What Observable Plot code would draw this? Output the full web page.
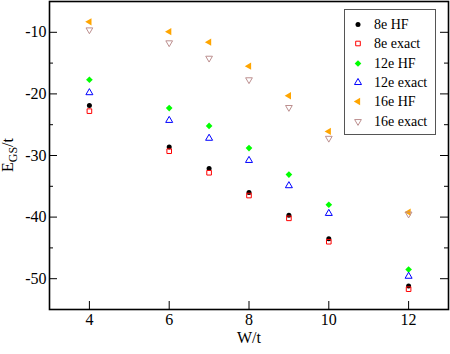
<!DOCTYPE html>
<html>
<head>
<meta charset="utf-8">
<script src="https://cdn.jsdelivr.net/npm/d3@7"></script>
<script src="https://cdn.jsdelivr.net/npm/@observablehq/plot@0.6"></script>
<style>
  html, body { margin: 0; padding: 0; background: #fff; }
  #wrap { position: relative; width: 450px; height: 354px; font-family: "Liberation Serif", serif; }
  #wrap svg text { font-family: "Liberation Serif", serif; }
  #legend { position: absolute; left: 344px; top: 9px; width: 92px; height: 126px; box-sizing: border-box;
            border: 1px solid #555; background: #fff; padding-top: 5.5px; padding-left: 6px;
            font-family: "Liberation Serif", serif; }
  .row { display: flex; align-items: center; height: 19.33px; font-size: 14px; color: #000; }
  .row svg { flex: none; margin-right: 9px; }
</style>
</head>
<body>
<div id="wrap"></div>
<script>
// ---- data ----
const W = [4, 6, 7, 8, 9, 10, 12];
const hf8   = [-21.9, -28.6, -32.1, -36.0, -39.7, -43.5, -51.2];
const ex8   = [-22.8, -29.3, -32.8, -36.5, -40.2, -44.0, -51.7];
const hf12  = [-17.7, -22.3, -25.2, -28.8, -33.1, -38.0, -48.5];
const ex12  = [-19.8, -24.3, -27.2, -30.8, -34.9, -39.4, -49.6];
const hf16  = [-8.3, -9.9, -11.6, -15.5, -20.3, -26.1, -39.2];
const ex16  = [-9.6, -11.7, -14.2, -17.7, -22.2, -27.2, -39.5];
const seriesNames = ["8e HF", "8e exact", "12e HF", "12e exact", "16e HF", "16e exact"];
const xTicks = [4, 6, 8, 10, 12];
const yMajor = [-50, -40, -30, -20, -10];
const yMinor = [-45, -35, -25, -15];

// ---- styles per series ----
const styles = [
  {symbol: "circle",   r: 2.5, fill: "black",  stroke: "none",   rotate: 0},
  {symbol: "square",   r: 2.6, fill: "none",   stroke: "#ff0000", rotate: 0},
  {symbol: "diamond2", r: 3.0, fill: "#00ff00", stroke: "none",  rotate: 0},
  {symbol: "triangle", r: 2.6, fill: "none",   stroke: "#0000ff", rotate: 0},
  {symbol: "triangle", r: 2.7, fill: "#ffa500", stroke: "none",  rotate: -90},
  {symbol: "triangle", r: 2.5, fill: "none",   stroke: "#bc8f8f", rotate: 180}
];
const allValues = [hf8, ex8, hf12, ex12, hf16, ex16];
const data = allValues.map((vals, k) => W.map((w, i) => ({w, e: vals[i], k})));

const width = 450, height = 354;
const mL = 49, mR = 2, mT = 1, mB = 45;
const plotW = width - mL - mR;
const FF = "Liberation Serif, serif";

const dotMarks = data.map((d, k) => Plot.dot(d, {
  x: "w", y: "e",
  symbol: styles[k].symbol, r: styles[k].r,
  fill: styles[k].fill, stroke: styles[k].stroke, strokeWidth: 1,
  rotate: styles[k].rotate
}));

const chart = Plot.plot({
  width, height,
  marginLeft: mL, marginRight: mR, marginTop: mT, marginBottom: mB,
  style: {fontFamily: FF, fontSize: "16px", background: "white", color: "black"},
  x: {domain: [3, 13]},
  y: {domain: [-55, -5]},
  marks: [
    // inward ticks, left and right
    Plot.tickY(yMajor, {y: d => d, insetRight: plotW - 8, stroke: "black", strokeWidth: 1}),
    Plot.tickY(yMajor, {y: d => d, insetLeft: plotW - 8, stroke: "black", strokeWidth: 1}),
    Plot.tickY(yMinor, {y: d => d, insetRight: plotW - 4, stroke: "black", strokeWidth: 1}),
    Plot.tickY(yMinor, {y: d => d, insetLeft: plotW - 4, stroke: "black", strokeWidth: 1}),
    Plot.tickX(xTicks, {x: d => d, insetTop: height - mT - mB - 8, stroke: "black", strokeWidth: 1}),
    Plot.axisY({ticks: yMajor, tickSize: 0, tickPadding: 3, tickFormat: d => String(d), fontSize: 16, fontFamily: FF, label: null}),
    Plot.axisX({ticks: xTicks, tickSize: 0, tickPadding: 4, tickFormat: d => String(d), fontSize: 16, fontFamily: FF,
                label: "W/t", labelAnchor: "center", labelArrow: "none", labelOffset: 33}),
    ...dotMarks,
    Plot.frame({stroke: "black", strokeWidth: 1.6})
  ]
});

const wrap = document.getElementById("wrap");
wrap.appendChild(chart);

// y-axis label with subscript
const svg = d3.select(chart);
const yl = svg.append("text")
  .attr("transform", `translate(13,${mT + (height - mT - mB) / 2}) rotate(-90)`)
  .attr("text-anchor", "middle")
  .attr("font-size", 16)
  .attr("font-family", FF)
  .attr("fill", "black");
yl.append("tspan").text("E");
yl.append("tspan").attr("font-size", 12).attr("dy", 4).text("GS");
yl.append("tspan").attr("dy", -4).text("/t");

// legend
const legend = document.createElement("div");
legend.id = "legend";
seriesNames.forEach((name, k) => {
  const row = document.createElement("div");
  row.className = "row";
  const s = styles[k];
  const sym = {circle: d3.symbolCircle, square: d3.symbolSquare, diamond2: d3.symbolDiamond2, triangle: d3.symbolTriangle}[s.symbol];
  const ms = d3.create("svg").attr("width", 14).attr("height", 14);
  ms.append("path")
    .attr("d", d3.symbol(sym, Math.PI * s.r * s.r)())
    .attr("transform", `translate(7,6.5) rotate(${s.rotate})`)
    .attr("fill", s.fill).attr("stroke", s.stroke).attr("stroke-width", 1);
  row.appendChild(ms.node());
  const t = document.createElement("span");
  t.textContent = name;
  row.appendChild(t);
  legend.appendChild(row);
});
wrap.appendChild(legend);
</script>
</body>
</html>
